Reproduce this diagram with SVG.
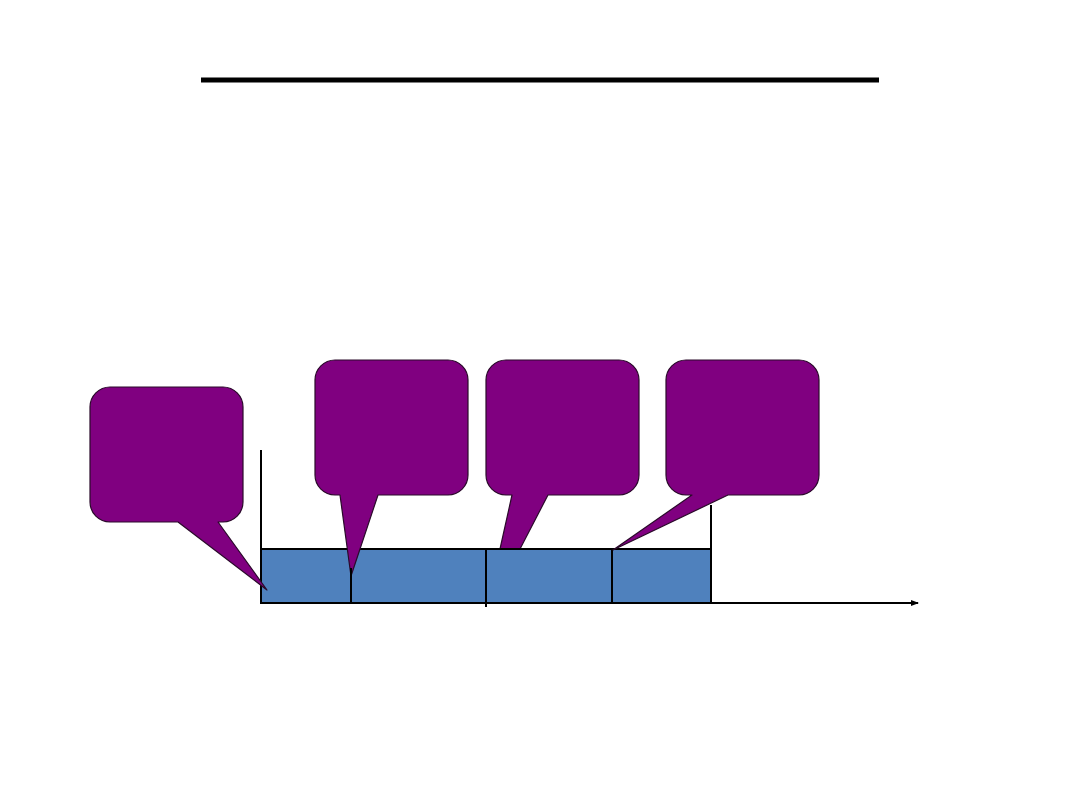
<svg xmlns="http://www.w3.org/2000/svg" width="1080" height="810" viewBox="0 0 1080 810">
<defs>
<style>
.bubble{fill:#800080;stroke:#2a0a2a;stroke-width:1.2;stroke-linejoin:round}
.seg{fill:#4F81BD;stroke:#000;stroke-width:2}
.ax{stroke:#000;stroke-width:2;fill:none}
</style>
<marker id="arr" markerWidth="8" markerHeight="6" refX="7" refY="3" orient="auto" markerUnits="userSpaceOnUse">
<path d="M0,0 L8,3 L0,6 Z" fill="#000"/>
</marker>
</defs>
<rect width="1080" height="810" fill="#fff"/>
<line x1="201" y1="80" x2="879" y2="80" stroke="#000" stroke-width="5"/>
<g id="bar">
<rect class="seg" x="261" y="549" width="90" height="54"/>
<rect class="seg" x="351" y="549" width="135" height="54"/>
<rect class="seg" x="486" y="549" width="126" height="54"/>
<rect class="seg" x="612" y="549" width="99" height="54"/>
</g>
<g id="connectors">
<line class="ax" x1="261" y1="450" x2="261" y2="604"/>
<line class="ax" x1="260" y1="603" x2="918" y2="603" marker-end="url(#arr)"/>
<line class="ax" x1="711" y1="505" x2="711" y2="603"/>
<line class="ax" x1="486" y1="603" x2="486" y2="607"/>
</g>
<g id="bubble1">
<path class="bubble" d="M110,387 H223 A20,20 0 0 1 243,407 V502 A20,20 0 0 1 223,522 H218 L267,590 L178,522 H110 A20,20 0 0 1 90,502 V407 A20,20 0 0 1 110,387 Z"/>
</g>
<g id="bubble2">
<path class="bubble" d="M335,360 H448 A20,20 0 0 1 468,380 V475 A20,20 0 0 1 448,495 H378 L351,576 L340,495 H335 A20,20 0 0 1 315,475 V380 A20,20 0 0 1 335,360 Z"/>
<line class="ax" x1="351" y1="568" x2="351" y2="603"/>
</g>
<g id="bubble3">
<path class="bubble" d="M506,360 H619 A20,20 0 0 1 639,380 V475 A20,20 0 0 1 619,495 H548 L520,549 L500,549 L512,495 H506 A20,20 0 0 1 486,475 V380 A20,20 0 0 1 506,360 Z"/>
<line class="ax" x1="498" y1="549" x2="522" y2="549"/>
</g>
<g id="bubble4">
<path class="bubble" d="M686,360 H799 A20,20 0 0 1 819,380 V475 A20,20 0 0 1 799,495 H728 L613,550 L692,495 H686 A20,20 0 0 1 666,475 V380 A20,20 0 0 1 686,360 Z"/>
</g>
</svg>
